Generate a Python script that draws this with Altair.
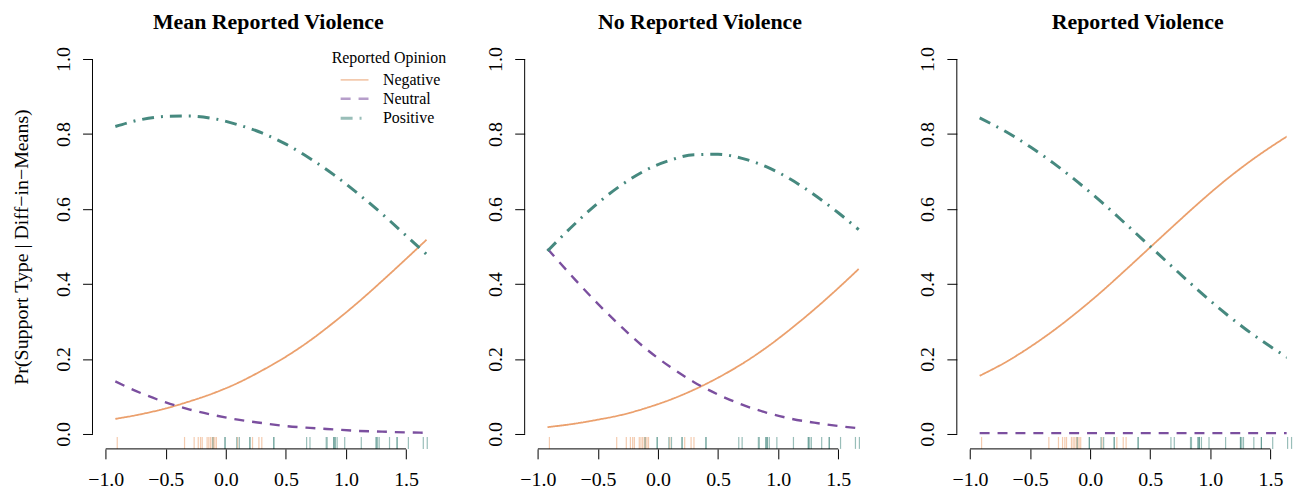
import altair as alt
import pandas as pd

# ---------------- data ----------------
PANEL_TITLES = ["Mean Reported Violence", "No Reported Violence", "Reported Violence"]
OPINIONS = ["Negative", "Neutral", "Positive"]

X_GRID = [-0.92, -0.7, -0.5, -0.3, -0.1, 0.1, 0.3, 0.5, 0.7, 0.9, 1.1, 1.3, 1.5, 1.67]

MEAN_NEG = [0.040, 0.053, 0.068, 0.087, 0.109, 0.136, 0.169, 0.206, 0.249, 0.298, 0.351, 0.408, 0.467, 0.518]
MEAN_NEU = [0.140, 0.108, 0.084, 0.065, 0.050, 0.038, 0.029, 0.021, 0.016, 0.012, 0.008, 0.006, 0.004, 0.003]
MEAN_POS = [0.820, 0.839, 0.847, 0.848, 0.841, 0.825, 0.803, 0.773, 0.735, 0.691, 0.641, 0.587, 0.529, 0.479]

NOVIO_NEG = [0.018, 0.027, 0.038, 0.051, 0.069, 0.091, 0.118, 0.150, 0.187, 0.230, 0.279, 0.332, 0.389, 0.440]
NOVIO_NEU = [0.494, 0.415, 0.347, 0.284, 0.227, 0.179, 0.138, 0.105, 0.078, 0.057, 0.041, 0.030, 0.021, 0.015]
NOVIO_POS = [0.488, 0.558, 0.616, 0.665, 0.704, 0.730, 0.745, 0.746, 0.735, 0.713, 0.680, 0.638, 0.590, 0.545]

VIO_NEG = [0.155, 0.192, 0.232, 0.277, 0.327, 0.381, 0.439, 0.498, 0.557, 0.615, 0.670, 0.720, 0.765, 0.800]
VIO_NEU = [0.002, 0.002, 0.002, 0.002, 0.002, 0.002, 0.002, 0.002, 0.002, 0.002, 0.002, 0.002, 0.002, 0.002]
VIO_POS = [0.843, 0.806, 0.766, 0.721, 0.671, 0.617, 0.559, 0.500, 0.441, 0.383, 0.328, 0.278, 0.233, 0.198]

# rug of observed diff-in-means, by reported opinion
RUG_NEG = [-0.904, -0.344, -0.264, -0.230, -0.211, -0.197, -0.156, -0.142, -0.128, -0.114,
           -0.103, -0.092, -0.079, 0.098, 0.222, 0.275, 0.299]
RUG_POS = [-0.108, -0.007, -0.007, 0.090, 0.112, 0.200, 0.200, 0.399, 0.399, 0.672, 0.700,
           0.835, 0.843, 0.898, 0.898, 0.909, 0.909, 0.926, 0.989, 1.127, 1.251, 1.251,
           1.262, 1.276, 1.362, 1.425, 1.425, 1.519, 1.643, 1.676]

X_TICKS = [-1.0, -0.5, 0.0, 0.5, 1.0, 1.5]
Y_TICKS = [0.0, 0.2, 0.4, 0.6, 0.8, 1.0]

Y_TITLE = "Pr(Support Type | Diff\u2212in\u2212Means)"
LEGEND_TITLE = "Reported Opinion"

# ---------------- styles ----------------
COLORS = ["#EBA06D", "#7B4F9F", "#46897F"]
DASHES = [[1, 0], [10, 8], [12, 7, 2, 7]]
WIDTHS = [1.8, 3.0, 2.6]
SERIF = "Liberation Serif"

H = 407
PANEL_W = [345.5, 345.5, 331.6]
X_DOMS = [[-1.11, 1.75], [-1.11, 1.75], [-1.11, 1.635]]
TITLE_DX = [4, 3.5, 16]

series = [
    (MEAN_NEG, MEAN_NEU, MEAN_POS),
    (NOVIO_NEG, NOVIO_NEU, NOVIO_POS),
    (VIO_NEG, VIO_NEU, VIO_POS),
]

rug_df = pd.DataFrame(
    {"x": RUG_NEG + RUG_POS,
     "opinion": ["Negative"] * len(RUG_NEG) + ["Positive"] * len(RUG_POS)}
)
xline_df = pd.DataFrame({"x": [min(X_TICKS)], "x2": [max(X_TICKS)]})
yline_df = pd.DataFrame({"y": [min(Y_TICKS)], "y2": [max(Y_TICKS)]})


def panel(i):
    rows = []
    for op, vals in zip(OPINIONS, series[i]):
        for xv, pv in zip(X_GRID, vals):
            rows.append({"x": xv, "p": pv, "opinion": op})
    df = pd.DataFrame(rows)

    xs = alt.Scale(domain=X_DOMS[i], nice=False, zero=False)
    ys = alt.Scale(domain=[-0.04, 1.04], nice=False, zero=False)
    ytitle = Y_TITLE if i == 0 else None

    xaxis = alt.Axis(values=X_TICKS, format=".1f", labelPadding=11, labelFlush=False, grid=False)
    yaxis = alt.Axis(values=Y_TICKS, format=".1f", labelAngle=270, labelAlign="center",
                     labelBaseline="bottom", labelPadding=9, titleX=-71,
                     titleBaseline="middle", titleAngle=270, grid=False)

    if i == 0:
        leg = alt.Legend(title=LEGEND_TITLE, orient="none", legendX=240, legendY=6,
                         symbolType="M-2,0H2", symbolSize=196, symbolOffset=9, labelOffset=20,
                         titleAnchor="middle", rowPadding=2.5, titlePadding=6)
    else:
        leg = None

    cscale = alt.Scale(domain=OPINIONS, range=COLORS)

    lines = alt.Chart(df).mark_line(clip=True, interpolate="monotone").encode(
        x=alt.X("x:Q", scale=xs, axis=xaxis, title=None),
        y=alt.Y("p:Q", scale=ys, axis=yaxis, title=ytitle),
        color=alt.Color("opinion:N", scale=cscale, legend=leg),
        strokeDash=alt.StrokeDash("opinion:N", scale=alt.Scale(domain=OPINIONS, range=DASHES), legend=leg),
        strokeWidth=alt.StrokeWidth("opinion:N", scale=alt.Scale(domain=OPINIONS, range=WIDTHS), legend=leg),
    )

    rug = alt.Chart(rug_df).mark_rule(opacity=0.55, strokeWidth=1.2).encode(
        x=alt.X("x:Q", scale=xs, axis=xaxis, title=None),
        y=alt.value(H),
        y2=alt.value(H - 12),
        color=alt.Color("opinion:N", scale=cscale, legend=leg),
    )

    xline = alt.Chart(xline_df).mark_rule(color="black", strokeWidth=1).encode(
        x=alt.X("x:Q", scale=xs, axis=xaxis, title=None),
        x2="x2:Q",
        y=alt.value(H),
    )
    yline = alt.Chart(yline_df).mark_rule(color="black", strokeWidth=1).encode(
        y=alt.Y("y:Q", scale=ys, axis=yaxis, title=ytitle),
        y2="y2:Q",
        x=alt.value(0),
    )

    return alt.layer(lines, rug, xline, yline).properties(
        width=PANEL_W[i],
        height=H,
        title=alt.TitleParams(text=PANEL_TITLES[i], font=SERIF, fontSize=22, fontWeight="bold",
                              color="black", anchor="middle", frame="group",
                              baseline="alphabetic", offset=-7, dx=TITLE_DX[i]),
    )


chart = alt.hconcat(panel(0), panel(1), panel(2), spacing=88.5, bounds="flush").properties(
    padding={"left": 12, "top": 10, "right": 0, "bottom": 0},
    background="white",
).configure_view(stroke=None).configure_axis(
    domain=False, grid=False, ticks=True, tickSize=10, tickWidth=1, tickColor="black",
    labelFont=SERIF, labelFontSize=20, labelColor="black",
    titleFont=SERIF, titleFontSize=20, titleColor="black", titleFontWeight="normal",
).configure_legend(
    titleFont=SERIF, titleFontSize=16, titleFontWeight="normal", titleColor="black",
    labelFont=SERIF, labelFontSize=16, labelColor="black",
)

chart.save("out.html", embed_options={"renderer": "svg", "actions": False})
